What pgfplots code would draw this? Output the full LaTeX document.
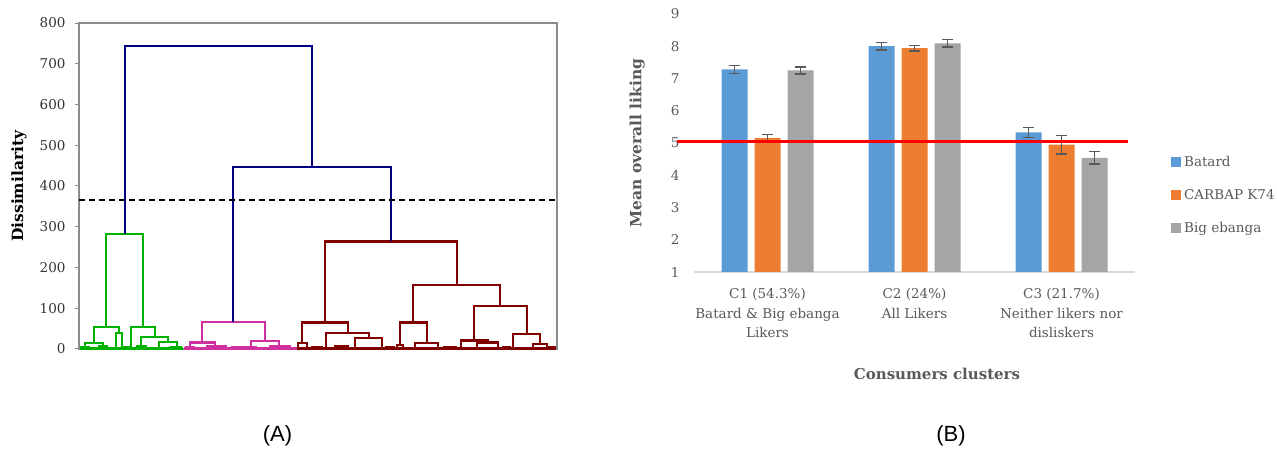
\documentclass[border=0pt]{standalone}
\usepackage{pgfplots}
\pgfplotsset{compat=1.18}
\usepackage{fontspec}
\setmainfont{DejaVu Serif}
\newfontfamily\labelsans{Liberation Sans}
\definecolor{dnavy}{RGB}{0,0,128}
\definecolor{dgreen}{RGB}{0,178,0}
\definecolor{dmag}{RGB}{208,48,160}
\definecolor{dred}{RGB}{128,0,0}
\definecolor{cbat}{RGB}{91,155,213}
\definecolor{ccar}{RGB}{237,125,49}
\definecolor{cbig}{RGB}{165,165,165}
\definecolor{txtg}{RGB}{89,89,89}
\begin{document}
\begin{tikzpicture}[x=1pt,y=1pt]
\path[use as bounding box] (0,0) rectangle (1277,449);
% ---------------- Panel A: dendrogram ----------------
\begin{axis}[
  at={(79pt,100pt)}, anchor=south west, scale only axis,
  width=478pt, height=326pt,
  xmin=79, xmax=557, ymin=0, ymax=800,
  xtick=\empty, ytick={0,100,...,800},
  tick align=outside, major tick length=4pt, ytick pos=left,
  axis line style={draw=black!45, line width=1.2pt},
  tick style={black!45, line width=1pt},
  /pgf/number format/assume math mode=true,
  yticklabel style={font=\fontsize{13.5}{16}\selectfont, text=black!80, xshift=-6pt},
  ylabel={\textbf{Dissimilarity}},
  ylabel style={font=\fontsize{15.5}{18}\selectfont, at={(axis description cs:-0.1255,0.5)}, anchor=center},
  clip=false, unbounded coords=jump,
]
\addplot[dgreen, line width=2.3pt] coordinates {
(106,54) (106,282) (143,282) (143,54) (nan,nan)
(94,14) (94,54) (119,54) (119,39) (nan,nan)
(116,3) (116,39) (122,39) (122,3) (nan,nan)
(85,4) (85,14) (103,14) (103,5) (nan,nan)
(81,1) (81,5) (89,5) (89,1) (nan,nan)
(99,2) (99,6) (107,6) (107,2) (nan,nan)
(131,3) (131,54) (155,54) (155,30) (nan,nan)
(141,8) (141,30) (168,30) (168,17) (nan,nan)
(137,2) (137,8) (146,8) (146,3) (nan,nan)
(159,3) (159,17) (177,17) (177,3) (nan,nan)
(124,1) (124,4) (129,4) (129,1) (nan,nan)
(171,1) (171,4) (181,4) (181,1) (nan,nan)
(80,1) (183,1)
};
\addplot[dmag, line width=2.3pt] coordinates {
(202,16) (202,67) (265,67) (265,19) (nan,nan)
(190,4) (190,16) (215,16) (215,7) (nan,nan)
(186,1) (186,5) (194,5) (194,1) (nan,nan)
(207,2) (207,7) (226,7) (226,2) (nan,nan)
(232,1) (232,4) (244,4) (244,1) (nan,nan)
(251,4) (251,19) (279,19) (279,6) (nan,nan)
(246,1) (246,4) (256,4) (256,1) (nan,nan)
(270,2) (270,6) (290,6) (290,2) (nan,nan)
(184,1) (297,1)
};
\addplot[dred, line width=2.3pt] coordinates {
(325,65) (325,264) (457,264) (457,157) (nan,nan)
(302,14) (302,65) (348,65) (348,39) (nan,nan)
(298,2) (298,14) (307,14) (307,2) (nan,nan)
(326,4) (326,39) (369,39) (369,27) (nan,nan)
(355,4) (355,27) (382,27) (382,4) (nan,nan)
(312,1) (312,5) (322,5) (322,1) (nan,nan)
(335,1) (335,6) (348,6) (348,1) (nan,nan)
(386,1) (386,5) (394,5) (394,1) (nan,nan)
(413,65) (413,157) (500,157) (500,105) (nan,nan)
(400,10) (400,65) (427,65) (427,14) (nan,nan)
(397,2) (397,10) (403,10) (403,2) (nan,nan)
(415,4) (415,14) (438,14) (438,4) (nan,nan)
(444,1) (444,5) (456,5) (456,1) (nan,nan)
(474,20) (474,105) (527,105) (527,36) (nan,nan)
(461,4) (461,21) (488,21) (488,16) (nan,nan)
(477,4) (477,16) (498,16) (498,4) (nan,nan)
(503,1) (503,5) (510,5) (510,1) (nan,nan)
(513,4) (513,36) (540,36) (540,12) (nan,nan)
(533,3) (533,12) (547,12) (547,3) (nan,nan)
(549,1) (549,4) (555,4) (555,1) (nan,nan)
(297,1) (556,1)
};
\addplot[dnavy, line width=2.3pt] coordinates {
(125,282) (125,743) (312,743) (312,447) (nan,nan)
(233,67) (233,447) (391,447) (391,264)
};
\addplot[black, line width=1.8pt, dash pattern=on 6pt off 4pt] coordinates {(79,365) (557,365)};
\end{axis}
% ---------------- Panel B: bar chart ----------------
\begin{axis}[
  at={(694pt,177pt)}, anchor=south west, scale only axis,
  width=441pt, height=258pt,
  xmin=0.5, xmax=3.5, ymin=1, ymax=9,
  ybar, bar width=26pt,
  xtick={1,2,3},
  xticklabels={{C1 (54.3\%)\\Batard \& Big ebanga\\Likers},{C2 (24\%)\\All Likers},{C3 (21.7\%)\\Neither likers nor\\disliskers}},
  xticklabel style={align=center, font=\fontsize{13.5}{19.5}\selectfont, text=txtg, yshift=-13pt},
  ytick={1,2,...,9},
  /pgf/number format/assume math mode=true,
  yticklabel style={font=\fontsize{13.5}{16}\selectfont, text=txtg, xshift=-11pt},
  axis x line*=bottom, axis y line*=left,
  y axis line style={draw=none},
  x axis line style={draw=black!15, line width=1.5pt},
  major tick length=0pt, tick style={draw=none},
  ylabel={\textbf{Mean overall liking}},
  ylabel style={font=\fontsize{15.5}{18}\selectfont, text=txtg, at={(axis description cs:-0.129,0.5)}, anchor=center},
  xlabel={\textbf{Consumers clusters}},
  xlabel style={font=\fontsize{15}{19}\selectfont, text=txtg, at={(axis description cs:0.551,-0.395)}, anchor=center},
  clip=false,
  legend cell align=left,
  legend style={at={(rel axis cs:1.0816,0.458)}, anchor=north west, draw=none, fill=none,
    font=\fontsize{13.5}{16}\selectfont, text=txtg, row sep=17.5pt, inner sep=0pt,
    nodes={inner xsep=3.5pt}},
]
\addplot[fill=cbat, draw=none, forget plot, bar shift=-33pt,
  error bars/y dir=both, error bars/y explicit,
  error bars/error bar style={txtg, line width=1.3pt},
  error bars/error mark options={rotate=90, mark size=5.5pt, line width=1.3pt, txtg}]
  coordinates {(1,7.28) +- (0,0.12) (2,8.00) +- (0,0.12) (3,5.33) +- (0,0.16)};
\addplot[fill=ccar, draw=none, forget plot, bar shift=0pt,
  error bars/y dir=both, error bars/y explicit,
  error bars/error bar style={txtg, line width=1.3pt},
  error bars/error mark options={rotate=90, mark size=5.5pt, line width=1.3pt, txtg}]
  coordinates {(1,5.15) +- (0,0.11) (2,7.94) +- (0,0.09) (3,4.95) +- (0,0.29)};
\addplot[fill=cbig, draw=none, forget plot, bar shift=33pt,
  error bars/y dir=both, error bars/y explicit,
  error bars/error bar style={txtg, line width=1.3pt},
  error bars/error mark options={rotate=90, mark size=5.5pt, line width=1.3pt, txtg}]
  coordinates {(1,7.25) +- (0,0.11) (2,8.09) +- (0,0.11) (3,4.54) +- (0,0.19)};
\addplot[sharp plot, red, line width=3.5pt, forget plot] coordinates {(0.384,5.04) (3.452,5.04)};
\addlegendimage{legend image code/.code={\fill[cbat] (0pt,-4.5pt) rectangle (9pt,4.5pt);}}
\addlegendentry{Batard}
\addlegendimage{legend image code/.code={\fill[ccar] (0pt,-4.5pt) rectangle (9pt,4.5pt);}}
\addlegendentry{CARBAP K74}
\addlegendimage{legend image code/.code={\fill[cbig] (0pt,-4.5pt) rectangle (9pt,4.5pt);}}
\addlegendentry{Big ebanga}
\end{axis}
\node[font=\labelsans\fontsize{22}{26}\selectfont] at (277.5,13) {(A)};
\node[font=\labelsans\fontsize{22}{26}\selectfont] at (951,13) {(B)};
\end{tikzpicture}
\end{document}
